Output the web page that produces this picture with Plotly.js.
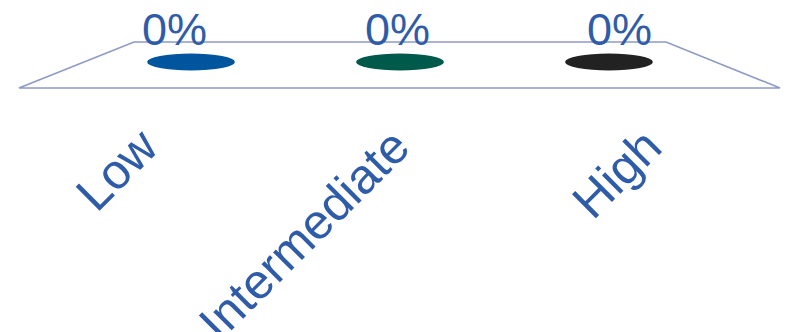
<!DOCTYPE html>
<html>
<head>
<meta charset="utf-8">
<script src="https://cdn.plot.ly/plotly-3.0.1.min.js"></script>
<style>html,body{margin:0;padding:0;background:#fff}#chart{width:786px;height:332px}</style>
</head>
<body>
<div id="chart"></div>
<script>
// ---- data ----
const categories = ['Low', 'Intermediate', 'High'];
const values = [0, 0, 0];           // percent
const barColors = ['#00569e', '#005a4b', '#222222'];
const valueLabels = values.map(v => v + '%');

// ---- style ----
const W = 786, H = 332;
const textColor = '#2f5ca8';
const floorColor = '#8e9ac6';
const font = 'Arial, "Liberation Sans", sans-serif';

const idx = categories.map((c, i) => i);

// floor of the 3D plot area (decoration, in pixel -> paper)
const px = (x) => x / W, py = (y) => 1 - y / H;
const floorPts = [[19, 88], [134, 42], [666, 42], [780, 88]];
const floorPath = 'M ' + floorPts.map(p => px(p[0]) + ',' + py(p[1])).join(' L ') + ' Z';

const shapes = [{
  type: 'path', xref: 'paper', yref: 'paper', path: floorPath,
  line: {color: floorColor, width: 1.6}, fillcolor: 'rgba(0,0,0,0)', layer: 'below'
}];

// ellipses = tops of zero-height cylinders
const plotTop = 0, plotBottom = 107;        // px
const halfW = 0.21, halfH = 0.137;
idx.forEach(i => {
  shapes.push({
    type: 'circle', xref: 'x', yref: 'y',
    x0: i - halfW, x1: i + halfW, y0: values[i] / 100 - halfH, y1: values[i] / 100 + halfH,
    fillcolor: barColors[i], line: {width: 0}
  });
});

const annotations = idx.map(i => ({
  x: i, y: values[i] / 100, xref: 'x', yref: 'y',
  text: valueLabels[i], showarrow: false,
  xanchor: 'center', yanchor: 'middle',
  xshift: -3 + (i - 1) * 14, yshift: 32,
  font: {family: font, size: 45, color: textColor}
}));

const traces = [
  {x: idx, y: values.map(v => v / 100), type: 'scatter', mode: 'none', xaxis: 'x', yaxis: 'y', hoverinfo: 'skip', showlegend: false},
  {x: idx, y: values.map(v => v / 100), type: 'scatter', mode: 'none', xaxis: 'x2', yaxis: 'y', hoverinfo: 'skip', showlegend: false}
];

const layout = {
  width: W, height: H,
  margin: {l: 0, r: 0, t: 0, b: 0},
  paper_bgcolor: '#fff', plot_bgcolor: 'rgba(0,0,0,0)',
  showlegend: false,
  xaxis: {range: [-0.914, 2.847], showgrid: false, zeroline: false, showticklabels: false, showline: false, fixedrange: true},
  xaxis2: {
    overlaying: 'x', anchor: 'y', side: 'bottom',
    range: [-0.567, 2.552], tickmode: 'array', tickvals: idx, ticktext: categories,
    tickangle: -45, ticks: '', showgrid: false, zeroline: false, showline: false,
    tickfont: {family: font, size: 49, color: textColor}, automargin: false
  },
  yaxis: {domain: [1 - plotBottom / H, 1 - plotTop / H], range: [-0.726, 1], visible: false, fixedrange: true},
  shapes: shapes,
  annotations: annotations
};

Plotly.newPlot('chart', traces, layout, {displayModeBar: false, staticPlot: true});
</script>
</body>
</html>
